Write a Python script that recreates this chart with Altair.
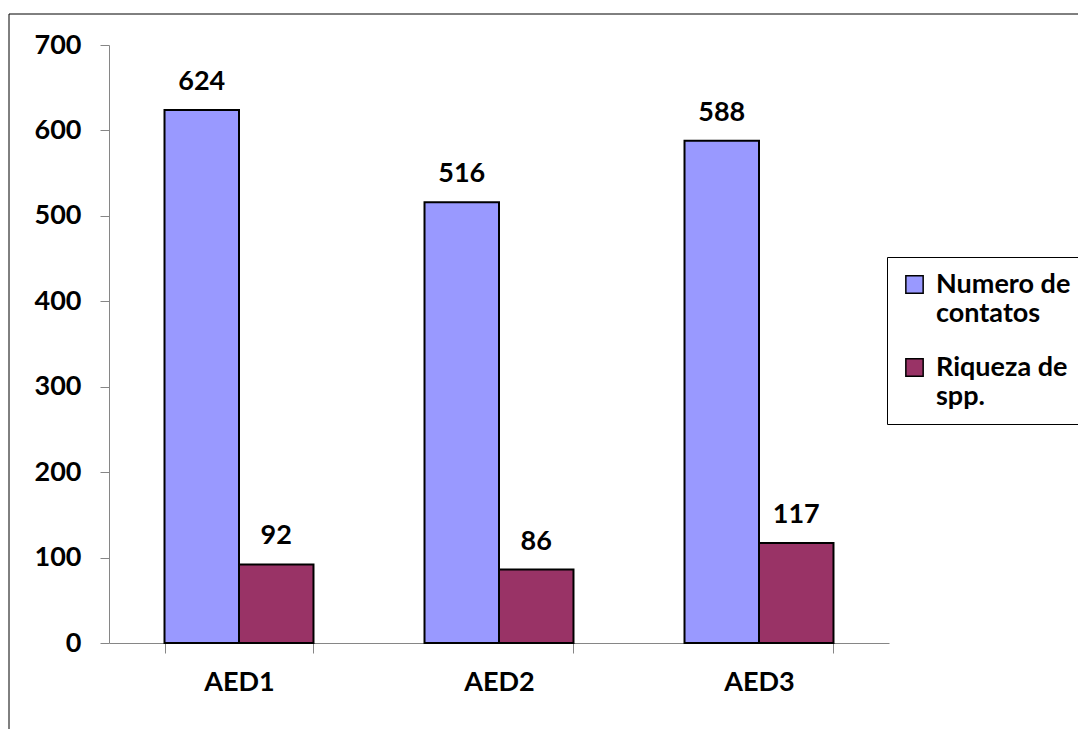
import altair as alt
import pandas as pd

categories = ["AED1", "AED2", "AED3"]
series = ["Numero de contatos", "Riqueza de spp."]
numero_de_contatos = [624, 516, 588]
riqueza_de_spp = [92, 86, 117]
colors = ["#9999FF", "#993366"]
y_ticks = [0, 100, 200, 300, 400, 500, 600, 700]

rows = []
for i, c in enumerate(categories):
    rows.append({"cat": c, "serie": series[0], "valor": numero_de_contatos[i]})
    rows.append({"cat": c, "serie": series[1], "valor": riqueza_de_spp[i]})
df = pd.DataFrame(rows)

FONT = "Lato"
FS = 27
AXIS_GRAY = "#868686"

x_enc = alt.X(
    "cat:N",
    sort=categories,
    title=None,
    scale=alt.Scale(paddingInner=0.427, paddingOuter=0.2135),
    axis=alt.Axis(
        labelAngle=0,
        tickBand="extent",
        grid=False,
        tickSize=10,
        tickColor=AXIS_GRAY,
        domainColor=AXIS_GRAY,
        labelFont=FONT,
        labelFontWeight="bold",
        labelFontSize=FS,
        labelColor="black",
        labelPadding=16,
        labelBaseline="top",
    ),
)
xoff = alt.XOffset("serie:N", sort=series, scale=alt.Scale(paddingInner=0, paddingOuter=0))

bars = alt.Chart(df).mark_bar(stroke="black", strokeWidth=2).encode(
    x=x_enc,
    xOffset=xoff,
    y=alt.Y(
        "valor:Q",
        title=None,
        scale=alt.Scale(domain=[0, 700], nice=False),
        axis=alt.Axis(
            values=y_ticks,
            grid=False,
            tickSize=9,
            tickColor=AXIS_GRAY,
            domainColor=AXIS_GRAY,
            labelFont=FONT,
            labelFontWeight="bold",
            labelFontSize=FS,
            labelColor="black",
            labelPadding=19,
        ),
    ),
    color=alt.Color(
        "serie:N",
        sort=series,
        scale=alt.Scale(domain=series, range=colors),
        legend=alt.Legend(
            title=None,
            orient="none",
            legendX=778,
            legendY=212,
            strokeColor="black",
            fillColor="white",
            padding=14,
            symbolType="square",
            symbolSize=300,
            symbolStrokeColor="black",
            symbolStrokeWidth=1.5,
            labelFont=FONT,
            labelFontWeight="bold",
            labelFontSize=FS,
            labelColor="black",
            labelLimit=300,
            rowPadding=26,
            labelOffset=8,
            labelExpr="datum.label == 'Numero de contatos' ? ['Numero de\u00a0\u00a0\u00a0', 'contatos'] : ['Riqueza de', 'spp.']",
        ),
    ),
)

labels = alt.Chart(df).mark_text(
    font=FONT, fontWeight="bold", fontSize=FS, color="black", baseline="alphabetic", dy=-20
).encode(
    x=alt.X("cat:N", sort=categories),
    xOffset=xoff,
    y=alt.Y("valor:Q"),
    text=alt.Text("valor:Q"),
)

frame_df = pd.DataFrame({"k": [0]})
frame = alt.Chart(frame_df).mark_rect(filled=False, stroke="black", strokeWidth=1, fill="transparent").encode(
    x=alt.value(-100), x2=alt.value(1000), y=alt.value(-31), y2=alt.value(720)
)

chart = alt.layer(frame, bars, labels).properties(
    width=780,
    height=598,
    background="white",
    view=alt.ViewBackground(stroke="transparent", strokeWidth=0),
    autosize=alt.AutoSizeParams(type="none"),
    padding={"left": 109, "top": 45, "right": 189, "bottom": 86},
).configure_view(strokeWidth=0, stroke="transparent").configure_axis(grid=False)

chart.save("out.html", embed_options={"renderer": "svg", "actions": False})
